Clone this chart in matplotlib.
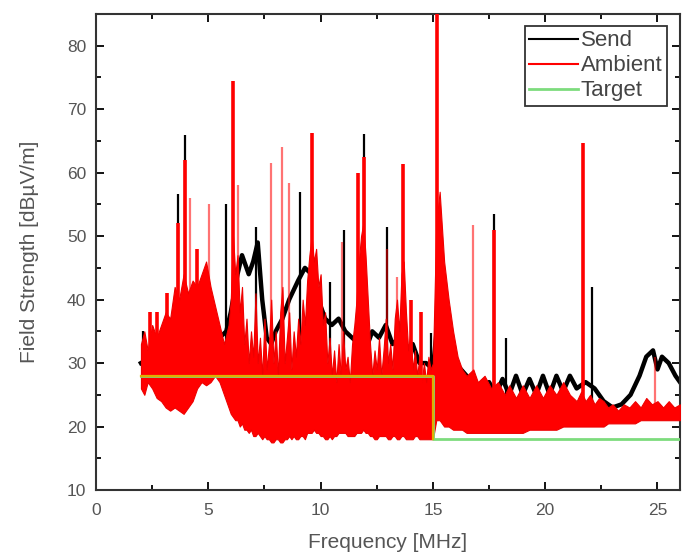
import numpy as np
import matplotlib
matplotlib.use("Agg")
import matplotlib.pyplot as plt
from matplotlib.lines import Line2D

# Ambient spectrum: noise body (lower / upper edge) in MHz and dBuV/m
amb_f = [2.00, 2.15, 2.30, 2.50, 2.70, 2.90, 3.10, 3.30, 3.50, 3.70, 3.90, 4.10, 4.30, 4.50,
         4.70, 4.90, 5.10, 5.30, 5.50, 5.70, 5.90,
         6.0, 6.1, 6.2, 6.3, 6.4, 6.5, 6.6, 6.7, 6.8, 6.9, 7.0, 7.1, 7.2, 7.3, 7.4, 7.5,
         7.6, 7.7, 7.8, 7.9, 8.0, 8.1, 8.2, 8.3, 8.4, 8.5, 8.6, 8.7, 8.8, 8.9, 9.0, 9.1,
         9.2, 9.3, 9.4, 9.5, 9.6, 9.7, 9.8, 9.9, 10.0, 10.1, 10.2, 10.3, 10.4, 10.5, 10.6,
         10.7, 10.8, 10.9, 11.0, 11.1, 11.2, 11.3, 11.4, 11.5, 11.6, 11.7, 11.8, 11.9, 12.0,
         12.1, 12.2, 12.3, 12.4, 12.5, 12.6, 12.7, 12.8, 12.9, 13.0, 13.1, 13.2, 13.3, 13.4,
         13.5, 13.6, 13.7, 13.8, 13.9, 14.0, 14.1, 14.2, 14.3, 14.4, 14.5, 14.6, 14.7, 14.8,
         14.9, 15.0,
         15.15, 15.30, 15.50, 15.70, 15.90, 16.10, 16.30, 16.50, 16.80, 17.00, 17.30,
         17.60, 17.90, 18.20, 18.40, 18.70, 19.00, 19.30, 19.60, 19.90, 20.20, 20.50, 20.80,
         21.10, 21.40, 21.60, 21.80, 22.00, 22.20, 22.40, 22.60, 22.80, 23.00, 23.25, 23.50,
         23.75, 24.00, 24.25, 24.50, 24.75, 25.00, 25.25, 25.50, 25.75, 26.00]
amb_lo = [26, 25, 27, 26, 24.5, 24, 23, 22.5, 23, 22.5, 22, 23, 24, 26,
          27, 26.5, 27, 28, 27, 25, 23,
          22, 21.5, 21, 21, 20, 20.5, 19.5, 19.5, 19, 19.5, 18.5, 18.5, 19, 18.5, 18, 18.5,
          18, 18, 17.5, 17.5, 18, 18, 17.5, 17.5, 18, 18, 18.5, 18, 18.5, 18, 18, 18.5,
          18.5, 18, 19, 19, 19, 19.5, 19, 19, 18.5, 18.5, 18, 18, 18.5, 18, 18.5,
          18.5, 19, 19, 19, 19, 18.5, 18.5, 18.5, 18.5, 19, 19, 19, 19.5, 19,
          19, 18.5, 18.5, 18, 18, 18.5, 18.5, 18.5, 18.5, 18, 18, 18.5, 18.5, 18,
          18, 18.5, 18.5, 18, 18, 18, 18, 18.5, 18.5, 18, 18, 18, 18, 18,
          18, 18,
          21, 21, 20, 20, 19.5, 19.5, 19.5, 19, 19, 19, 19,
          19, 19, 19, 19, 19, 19, 19.5, 19.5, 19.5, 19.5, 19.5, 20,
          20, 20, 20, 20, 20, 20, 20, 20, 20.5, 20.5, 20.5, 20.5,
          20.5, 20.5, 21, 21, 21, 21, 21, 21, 21, 21]
amb_hi = [33, 35, 32, 36, 34, 36, 38, 37, 42, 40, 44, 41, 43, 42,
          44, 46, 42, 39, 36, 33, 36,
          40, 50, 44, 47, 38, 42, 33, 37, 30, 35, 31, 41, 30, 34, 28, 37,
          29, 33, 40, 30, 35, 28, 38, 42, 30, 34, 38, 29, 35, 31, 37, 33,
          40, 36, 43, 47, 50, 46, 48, 42, 44, 36, 38, 30, 34, 28, 32,
          27, 33, 28, 35, 29, 31, 27, 33, 36, 40, 46, 50, 52, 47,
          40, 33, 28, 32, 29, 34, 28, 32, 37, 30, 33, 29, 37, 40,
          35, 44, 46, 38, 32, 35, 29, 32, 28, 31, 27, 30, 27, 31,
          29, 30,
          52, 57, 46, 40, 35, 31, 29, 28, 29, 27, 28,
          26, 27, 25, 26.5, 24.5, 26.5, 24.5, 26.5, 24.5, 26.5, 25, 27,
          25, 24, 25.5, 24, 25, 23.5, 24.5, 24, 23, 23.5, 22.5, 23.5,
          23, 24, 23, 24.5, 23.5, 24, 23, 24, 23, 23.5]

# Ambient narrow-band carriers
amb_pk_f = [2.40, 2.70, 3.15, 3.64, 3.95, 4.48, 6.08, 9.60, 11.68, 11.95, 13.68,
            14.03, 14.48, 15.20, 17.70, 21.67]
amb_pk_v = [38, 38, 41, 52, 62, 48, 74.5, 66.3, 60, 62.4, 61.4,
            40, 38, 85, 51, 64.7]
amb_thin_f = [4.20, 5.02, 6.30, 7.80, 8.30, 8.60, 10.97, 12.97, 13.40, 16.80, 24.90]
amb_thin_v = [56, 55, 58, 61.6, 64, 58.4, 49, 48, 43.5, 51.7, 31]

# Send spectrum (visible above ambient)
send_f = [2.0, 2.5, 3.0, 3.5, 4.0, 4.5, 5.0, 5.5, 5.8, 6.0, 6.3, 6.5, 6.8, 7.0, 7.2, 7.4,
          7.6, 7.8, 8.0, 8.3, 8.6, 9.0, 9.3, 9.6, 9.9, 10.2, 10.5, 10.8, 11.1, 11.4, 11.7,
          12.0, 12.3, 12.6, 12.9, 13.2, 13.5, 13.8, 14.1, 14.4, 14.7, 15.0, 15.3, 15.6,
          16.0, 16.5, 17.0, 17.5, 17.8, 18.1, 18.4, 18.7, 19.0, 19.3, 19.6, 19.9, 20.2,
          20.5, 20.8, 21.1, 21.4, 21.8, 22.2, 22.6, 23.0, 23.4, 23.8, 24.2, 24.5, 24.8,
          25.0, 25.2, 25.5, 25.8, 26.0]
send_v = [30, 31, 32, 33, 34, 33, 33, 34, 35, 38, 44, 47, 44, 46, 49, 40,
          34, 33, 35, 37, 40, 43, 45, 44, 40, 37, 36, 37, 35, 34, 33,
          32, 35, 34, 36, 33, 34, 31, 33, 30, 30, 29, 40, 36,
          30, 28, 26, 27, 25, 27.5, 25, 28, 25, 27.5, 25, 28, 25,
          28, 25.5, 28, 26, 27, 26, 24, 23, 23.5, 25, 28, 31, 32,
          29, 31, 30, 28, 27]
send_pk_f = [2.10, 3.64, 3.95, 5.77, 7.14, 9.06, 10.40, 11.06, 11.95, 12.97, 14.90,
             17.70, 18.25, 22.07]
send_pk_v = [35, 56.7, 66, 55, 51.5, 57, 42.7, 51, 66.1, 51.4, 34.7,
             53.5, 34, 42]

# Target limit
tgt_f = [2, 15, 15, 26]
tgt_v = [28, 28, 18, 18]

fig = plt.figure(figsize=(6.82, 5.54), dpi=100)
ax = fig.add_axes([0.1408, 0.1155, 0.8562, 0.8592])

# spike feet sit inside the noise body
amb_pk_base = np.interp(amb_pk_f, amb_f, amb_lo) + 2
amb_thin_base = np.interp(amb_thin_f, amb_f, amb_lo) + 2
send_pk_base = np.interp(send_pk_f, amb_f, amb_lo) + 2

# send (black) underneath
ax.plot(send_f, send_v, color="black", lw=3.2, zorder=2)
ax.vlines(send_pk_f, send_pk_base, send_pk_v, color="black", lw=1.6, zorder=2)

# ambient (red) on top
ax.fill_between(amb_f, amb_lo, amb_hi, color="#ff0000", lw=0.8, edgecolor="#ee0000", zorder=3)
ax.vlines(amb_pk_f, amb_pk_base, amb_pk_v, color="#ff0000", lw=2.6, zorder=3)
ax.vlines(amb_thin_f, amb_thin_base, amb_thin_v, color="#ff0000", lw=1.6, alpha=0.55, zorder=3)

# target: green, shows yellowish over the red body
ax.plot(tgt_f, tgt_v, color="#7ddc7d", lw=2.0, zorder=4)
ax.plot(tgt_f[:3], tgt_v[:3], color="#e0b000", lw=1.6, zorder=5)

ax.set_xlim(0, 26)
ax.set_ylim(10, 85)
ax.set_xticks([0, 5, 10, 15, 20, 25])
ax.set_xticks(np.arange(2.5, 26, 5), minor=True)
ax.set_yticks([10, 20, 30, 40, 50, 60, 70, 80])
ax.set_yticks(np.arange(15, 85, 10), minor=True)
ax.tick_params(which="both", direction="in", top=True, right=True, width=1.3,
               labelsize=12.5, labelcolor="#555555")
ax.tick_params(axis="x", pad=9)
ax.tick_params(axis="y", pad=7)
ax.tick_params(which="major", length=6)
ax.tick_params(which="minor", length=3.5)
for s in ax.spines.values():
    s.set_linewidth(1.5)
    s.set_color("#333333")

for lab in ax.get_xticklabels() + ax.get_yticklabels():
    lab.set_family("Liberation Sans")

ax.set_xlabel("Frequency [MHz]", fontsize=15, color="#555555", family="Liberation Sans", labelpad=11)
ax.set_ylabel("Field Strength [dB\u00b5V/m]", fontsize=15, color="#555555",
              family="Liberation Sans", labelpad=20)

handles = [Line2D([], [], color="black", lw=1.5),
           Line2D([], [], color="red", lw=1.5),
           Line2D([], [], color="#7ddc7d", lw=2)]
leg = ax.legend(handles, ["Send", "Ambient", "Target"], loc="upper right",
                bbox_to_anchor=(0.978, 0.975), fancybox=False, framealpha=1,
                edgecolor="#333333", handlelength=2.2, handletextpad=0.12,
                borderpad=0.2, labelspacing=0.18, borderaxespad=0,
                prop={"family": "Liberation Sans", "size": 16})
leg.get_frame().set_linewidth(1.3)
for t in leg.get_texts():
    t.set_color("#444444")

fig.savefig("out.png", dpi=100)
